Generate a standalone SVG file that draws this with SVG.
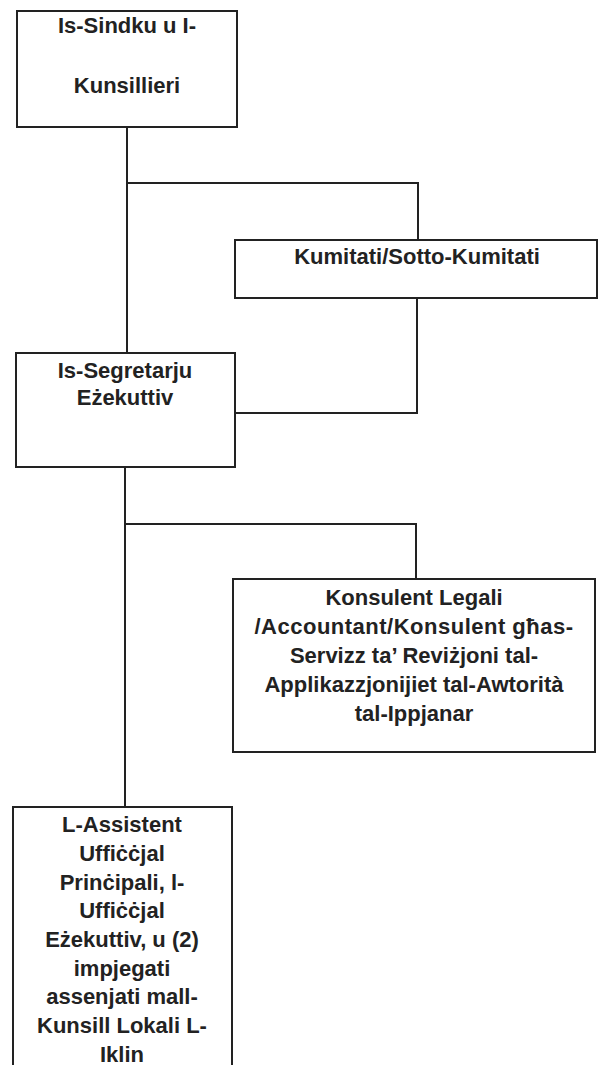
<svg xmlns="http://www.w3.org/2000/svg" width="598" height="1065" viewBox="0 0 598 1065">
<style>
.box{fill:#fff;stroke:#222;stroke-width:2}
.ln{fill:none;stroke:#222;stroke-width:2}
text{font-family:"Liberation Sans",Arial,sans-serif;font-weight:bold;font-size:22px;fill:#222;text-anchor:middle}
</style>
<rect width="598" height="1065" fill="#fff"/>
<g id="connectors">
<path class="ln" d="M127 127V353M127 183H418V240"/>
<path class="ln" d="M417 298V413H235"/>
<path class="ln" d="M125 467V807M125 524H416V579"/>
</g>
<g id="sindku">
<rect class="box" x="17" y="11" width="220" height="116"/>
<text x="127" y="33">Is-Sindku u I-</text>
<text x="127" y="93">Kunsillieri</text>
</g>
<g id="kumitati">
<rect class="box" x="235" y="240" width="362" height="58"/>
<text x="417" y="264">Kumitati/Sotto-Kumitati</text>
</g>
<g id="segretarju">
<rect class="box" x="16" y="353" width="219" height="114"/>
<text x="125" y="378">Is-Segretarju</text>
<text x="125" y="405">Eżekuttiv</text>
</g>
<g id="konsulent">
<rect class="box" x="233" y="579" width="362" height="173"/>
<text x="414" y="605">Konsulent Legali</text>
<text x="414" y="634" letter-spacing="0.5">/Accountant/Konsulent għas-</text>
<text x="414" y="663">Servizz ta’ Reviżjoni tal-</text>
<text x="414" y="692">Applikazzjonijiet tal-Awtorità</text>
<text x="414" y="721">tal-Ippjanar</text>
</g>
<g id="assistent">
<rect class="box" x="13" y="807" width="219" height="270"/>
<text x="122" y="832">L-Assistent</text>
<text x="122" y="861">Uffiċċjal</text>
<text x="122" y="890">Prinċipali, l-</text>
<text x="122" y="918">Uffiċċjal</text>
<text x="122" y="947">Eżekuttiv, u (2)</text>
<text x="122" y="976">impjegati</text>
<text x="122" y="1004">assenjati mall-</text>
<text x="122" y="1033">Kunsill Lokali L-</text>
<text x="122" y="1062">Iklin</text>
</g>
</svg>
